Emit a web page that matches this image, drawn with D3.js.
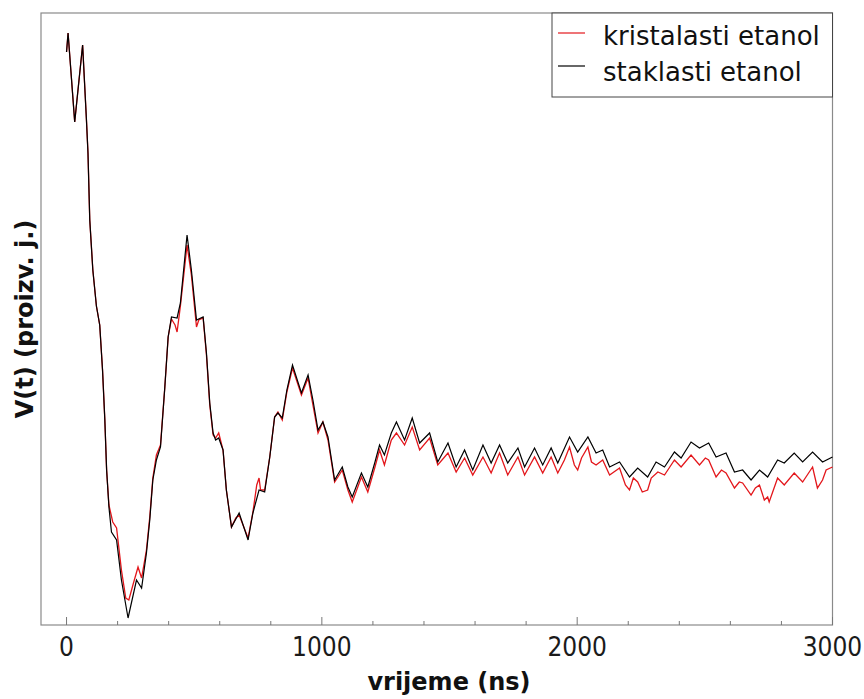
<html>
<head>
<meta http-equiv="Content-Type" content="text/html; charset=UTF-8" />
<script src="https://cdn.jsdelivr.net/npm/d3@7/dist/d3.min.js"></script>
<style>
  body { margin: 0; background: white; }
  .tick-label { font-family: "Liberation Sans Narrow", "DejaVu Sans Condensed", sans-serif; font-size: 26px; fill: #1a1a1a; }
  .axis-title { font-family: "DejaVu Sans", sans-serif; font-weight: bold; font-size: 24px; fill: #111; }
  .legend-text { font-family: "DejaVu Sans", sans-serif; font-size: 26px; fill: #111; }
</style>
</head>
<body>
<div id="chart"></div>
<script>
// vrijeme (ns) i V(t) (proizv. j.) - procitano sa slike
const timeStaklasti = [0,6,32,63,78,84,91,103,117,130,
  141,150,157,166,176,196,215,241,274,294,
  313,326,338,352,368,385,398,411,433,446,
  472,489,509,535,548,561,574,584,596,613,
  626,646,676,711,730,754,776,796,815,828,
  845,863,885,920,946,965,985,1004,1024,1050,
  1080,1102,1119,1155,1180,1207,1226,1245,1272,1292,
  1324,1354,1383,1422,1454,1494,1526,1559,1591,1631,
  1663,1696,1728,1768,1794,1833,1865,1898,1924,1970,
  2002,2042,2074,2100,2127,2166,2205,2237,2276,2309,
  2342,2381,2407,2446,2479,2515,2544,2583,2616,2648,
  2681,2714,2746,2785,2811,2850,2883,2922,2961,3000];
const vStaklasti = [573,592,503,580,505,472,405,355,319,300,
  255,205,155,118,93,85,45,7,45,37,
  72,105,145,165,178,238,288,308,307,322,
  390,355,305,308,272,222,192,185,187,175,
  135,98,112,85,112,135,133,168,208,212,
  207,235,260,232,250,225,195,203,188,145,
  158,138,128,152,138,162,180,170,192,203,
  185,207,182,192,163,182,158,175,155,180,
  162,180,162,177,158,177,160,177,162,188,
  173,188,172,175,158,163,148,157,148,163,
  158,173,167,183,177,182,168,172,153,155,
  145,155,148,165,162,172,163,173,163,168];

const timeKristalasti = [0,6,32,63,78,84,91,103,117,130,
  141,150,157,166,181,196,215,232,244,260,
  280,294,313,326,338,352,368,385,398,411,
  425,433,446,472,489,509,518,535,548,561,
  574,584,596,613,626,646,663,676,711,730,
  745,754,760,776,796,815,828,845,863,885,
  920,946,965,985,1004,1024,1050,1063,1080,1102,
  1119,1155,1180,1207,1226,1245,1272,1292,1324,1354,
  1383,1422,1454,1494,1526,1559,1591,1631,1663,1696,
  1728,1768,1794,1833,1865,1898,1924,1950,1970,1989,
  2002,2017,2042,2056,2074,2100,2127,2166,2189,2205,
  2220,2237,2255,2276,2290,2316,2342,2381,2407,2446,
  2479,2502,2515,2544,2565,2583,2616,2635,2648,2681,
  2698,2714,2733,2746,2752,2785,2811,2850,2883,2922,
  2941,2961,2975,3000];
const vKristalasti = [573,592,503,580,505,472,405,355,319,300,
  255,205,155,120,103,97,55,27,25,40,
  58,47,75,108,147,170,180,238,288,306,
  300,293,319,380,350,298,305,307,270,220,
  190,187,192,175,135,98,107,110,87,113,
  140,147,135,135,168,208,213,205,233,257,
  230,247,220,192,203,185,143,148,155,135,
  123,148,133,157,175,160,185,192,180,198,
  175,187,160,172,153,167,150,168,152,172,
  150,168,150,168,152,168,152,165,178,160,
  155,167,178,163,160,165,150,157,140,135,
  147,143,133,135,147,153,150,165,158,170,
  160,167,165,148,155,152,137,143,142,130,
  137,140,125,128,123,147,140,152,143,158,
  137,145,155,158];

const majorTicks = [0, 1000, 2000, 3000];
const minorTicks = d3.range(0, 3001, 200);
const legendLabels = ["kristalasti etanol", "staklasti etanol"];
const legendColors = ["#e3161b", "#000000"];

const width = 864, height = 699;
const mLeft = 41, mRight = 832.5, mTop = 13, mBottom = 625;

const x = d3.scaleLinear().domain([-100, 3000]).range([mLeft, mRight]);
const y = d3.scaleLinear().domain([0, 612]).range([mBottom, mTop]);

const svg = d3.select("#chart").append("svg")
  .attr("width", width)
  .attr("height", height);

// okvir
svg.append("rect")
  .attr("x", mLeft).attr("y", mTop)
  .attr("width", mRight - mLeft).attr("height", mBottom - mTop)
  .attr("fill", "white")
  .attr("stroke", "#8a8a8a")
  .attr("stroke-width", 1.2);

// x os: kvacice prema unutra
const ax = svg.append("g");
ax.selectAll("line")
  .data(minorTicks).enter()
  .append("line")
  .attr("x1", d => x(d)).attr("x2", d => x(d))
  .attr("y1", mBottom).attr("y2", d => majorTicks.includes(d) ? mBottom - 8 : mBottom - 4)
  .attr("stroke", "#777")
  .attr("stroke-width", 1);
ax.selectAll("text")
  .data(majorTicks).enter()
  .append("text")
  .attr("class", "tick-label")
  .attr("x", d => x(d))
  .attr("y", 656)
  .attr("text-anchor", "middle")
  .text(d => d);

svg.append("text")
  .attr("class", "axis-title")
  .attr("x", 449).attr("y", 690)
  .attr("text-anchor", "middle")
  .text("vrijeme (ns)");

svg.append("text")
  .attr("class", "axis-title")
  .attr("transform", "translate(33," + 319 + ") rotate(-90)")
  .attr("text-anchor", "middle")
  .text("V(t) (proizv. j.)");

const line = d3.line()
  .x(d => x(d[0]))
  .y(d => y(d[1]));

const kristal = d3.zip(timeKristalasti, vKristalasti);
const staklo = d3.zip(timeStaklasti, vStaklasti);

svg.append("path")
  .datum(kristal)
  .attr("d", line)
  .attr("fill", "none")
  .attr("stroke", legendColors[0])
  .attr("stroke-width", 1.3);

svg.append("path")
  .datum(staklo)
  .attr("d", line)
  .attr("fill", "none")
  .attr("stroke", legendColors[1])
  .attr("stroke-width", 1.2);

// legenda
const legend = svg.append("g");
legend.append("rect")
  .attr("x", 552).attr("y", mTop)
  .attr("width", mRight - 552).attr("height", 84)
  .attr("fill", "white")
  .attr("stroke", "#444")
  .attr("stroke-width", 1);
legend.selectAll("line")
  .data(legendLabels).enter()
  .append("line")
  .attr("x1", 558).attr("x2", 585)
  .attr("y1", (d, i) => 33 + i * 33).attr("y2", (d, i) => 33 + i * 33)
  .attr("stroke", (d, i) => legendColors[i])
  .attr("stroke-width", 1.2);
legend.selectAll("text")
  .data(legendLabels).enter()
  .append("text")
  .attr("class", "legend-text")
  .attr("x", 603)
  .attr("y", (d, i) => 45 + i * 36)
  .text(d => d);
</script>
</body>
</html>
